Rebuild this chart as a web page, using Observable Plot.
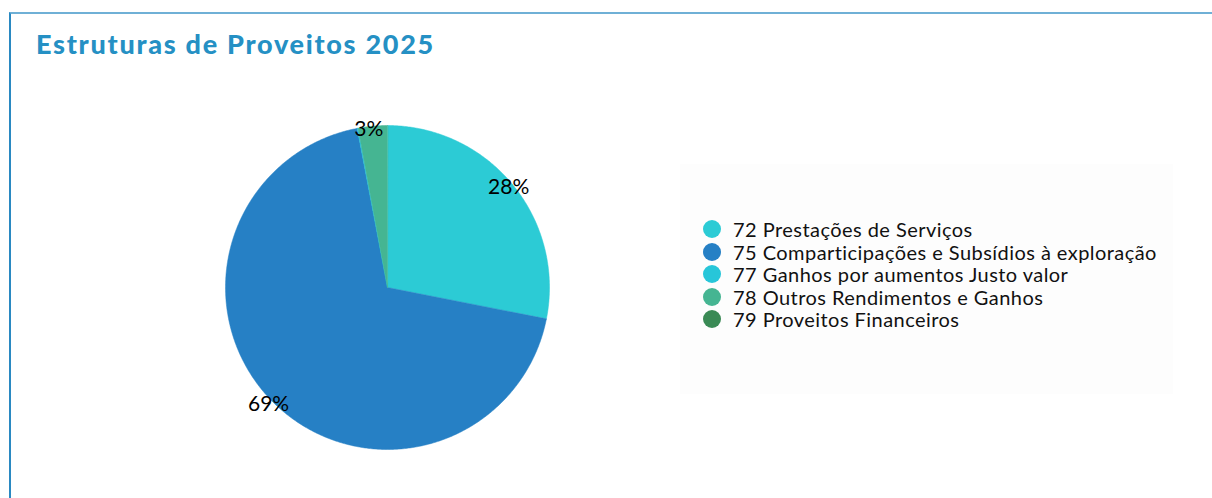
<!DOCTYPE html>
<html>
<head>
<meta charset="utf-8">
<script src="https://cdn.jsdelivr.net/npm/d3@7"></script>
<script src="https://cdn.jsdelivr.net/npm/@observablehq/plot@0.6"></script>
<style>
  html, body { margin: 0; padding: 0; background: #fff; }
  body { width: 1212px; height: 498px; position: relative; overflow: hidden; font-family: Lato, "Open Sans", sans-serif; }
  #frame { position: absolute; left: 9px; top: 12px; right: -5px; bottom: -5px; border-top: 2px solid #6fb0d6; border-left: 2px solid #2a89c2; }
  #title { position: absolute; left: 36px; top: 27px; font-family: Lato, sans-serif; font-weight: 900; font-size: 27px; letter-spacing: 1.72px; color: #2590c4; white-space: nowrap; }
  #chart { position: absolute; left: 0; top: 0; }
  #legendbox { position: absolute; left: 680px; top: 164px; width: 493px; height: 230px; background: #fdfdfd; }
  #legend { position: absolute; left: 703px; top: 218px; font-family: Lato, sans-serif; font-size: 20px; letter-spacing: 0.45px; color: #111; }
  .row { height: 22.5px; display: flex; align-items: center; white-space: nowrap; }
  .sw { width: 18px; height: 18px; border-radius: 50%; margin-right: 12px; flex: none; }
</style>
</head>
<body>
<div id="frame"></div>
<div id="title">Estruturas de Proveitos 2025</div>
<div id="chart"></div>
<div id="legendbox"></div>
<div id="legend"></div>
<script>
const categories = [
  "72 Prestações de Serviços",
  "75 Comparticipações e Subsídios à exploração",
  "77 Ganhos por aumentos Justo valor",
  "78 Outros Rendimentos e Ganhos",
  "79 Proveitos Financeiros"
];
const values = [28.1, 68.9, 0.1, 2.9, 0.0];
const colors = ["#2ccbd5", "#2680c5", "#27c6d9", "#45b592", "#3a8a55"];

const total = d3.sum(values);
let acc = 0;
const slices = categories.map((name, i) => {
  const a0 = acc / total * 2 * Math.PI;
  acc += values[i];
  const a1 = acc / total * 2 * Math.PI;
  return {name, value: values[i], share: values[i] / total, a0, a1};
});

// pie wedge outlines (geometry derived from the values)
const wedges = [];
for (const s of slices) {
  if (s.value <= 0) continue;
  const n = Math.max(2, Math.ceil((s.a1 - s.a0) / (Math.PI / 360)));
  wedges.push({name: s.name, x: 0, y: 0});
  for (let k = 0; k <= n; k++) {
    const a = s.a0 + (s.a1 - s.a0) * k / n;
    wedges.push({name: s.name, x: Math.sin(a), y: Math.cos(a)});
  }
}
const labels = slices.filter(s => s.share >= 0.01).map(s => {
  const m = (s.a0 + s.a1) / 2;
  return {x: Math.sin(m), y: Math.cos(m), text: Math.round(s.share * 100) + "%"};
});

const chart = Plot.plot({
  width: 700,
  height: 498,
  margin: 0,
  x: {domain: [-1, 1], range: [225, 549], axis: null},
  y: {domain: [-1, 1], range: [449, 125], axis: null},
  color: {domain: categories, range: colors},
  style: {background: "transparent", fontFamily: "Lato, sans-serif", overflow: "visible"},
  marks: [
    Plot.line(wedges, {x: "x", y: "y", z: "name", fill: "name", stroke: "name", strokeWidth: 0.5, curve: "linear-closed"}),
    Plot.text(labels, {x: "x", y: "y", text: "text", fill: "#000", fontSize: 21, dx: -4, dy: 3})
  ]
});
document.getElementById("chart").appendChild(chart);

const legend = document.getElementById("legend");
categories.forEach((c, i) => {
  const row = document.createElement("div");
  row.className = "row";
  const sw = document.createElement("span");
  sw.className = "sw";
  sw.style.background = colors[i];
  const t = document.createElement("span");
  t.textContent = c;
  row.appendChild(sw);
  row.appendChild(t);
  legend.appendChild(row);
});
</script>
</body>
</html>
